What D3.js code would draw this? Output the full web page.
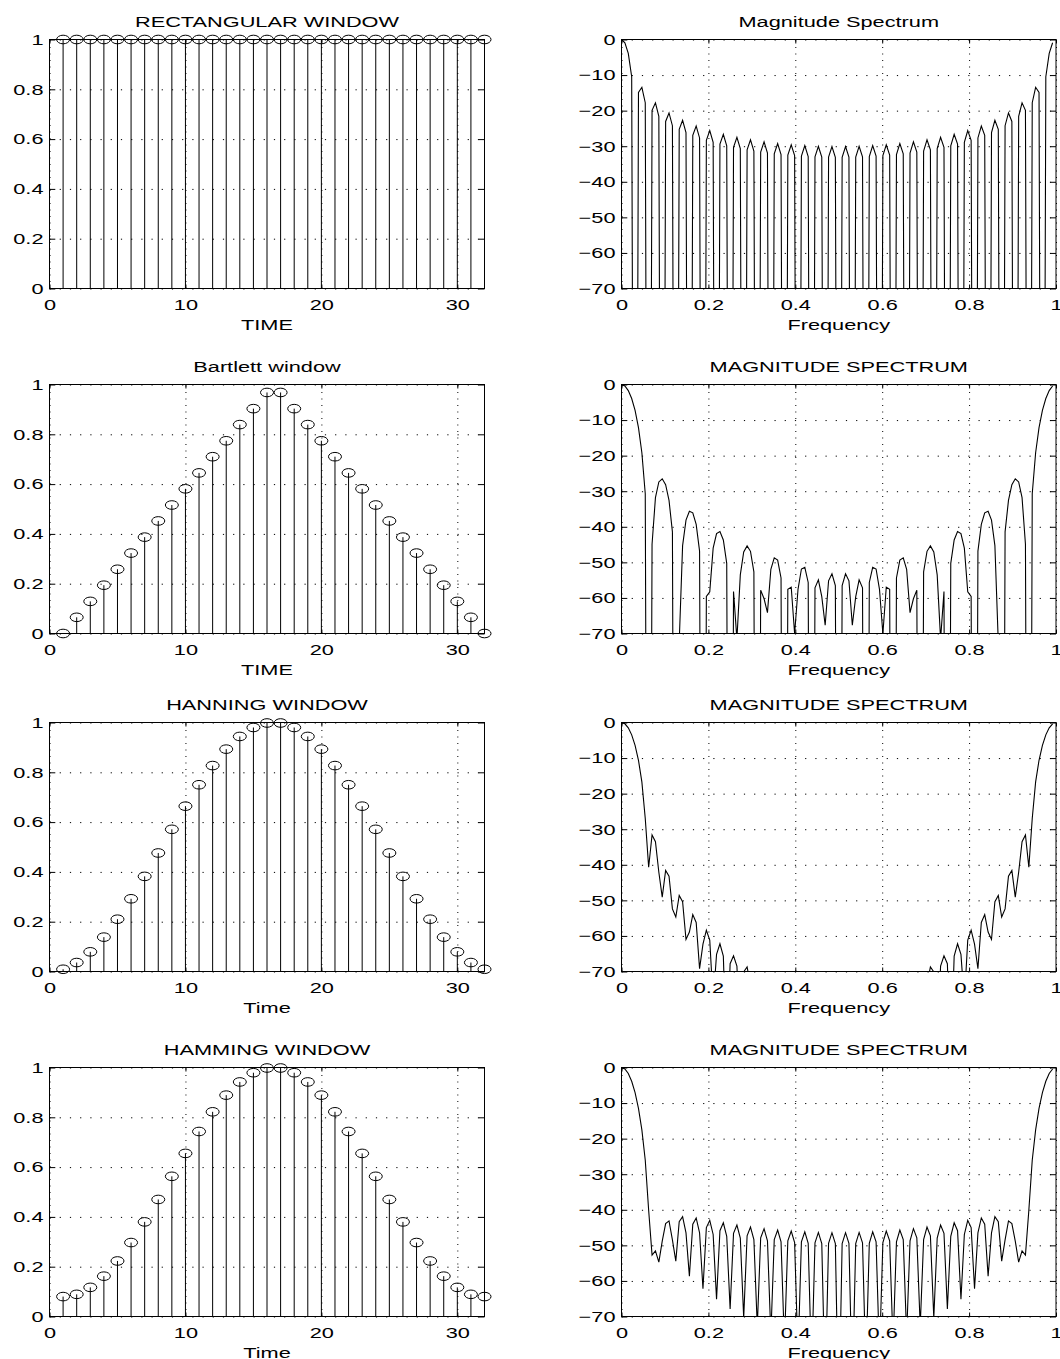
<!DOCTYPE html>
<html>
<head>
<meta charset="utf-8">
<script src="https://cdn.jsdelivr.net/npm/d3@7"></script>
<style>
  body { margin: 0; background: #fff; }
  svg text { font-family: "Liberation Sans", Arial, Helvetica, sans-serif; fill: #000; }
  .grid line { stroke: #000; stroke-width: 1; }
  .grid .domain { display: none; }
  .gx line { stroke-dasharray: 1, 5.5; }
  .gy line { stroke-dasharray: 1.2, 9; }
  .box { fill: none; stroke: #000; stroke-width: 1; }
  .stem { stroke: #000; stroke-width: 1; }
  .mark { fill: none; stroke: #000; stroke-width: 1; }
  .spec { fill: none; stroke: #000; stroke-width: 1.1; stroke-linejoin: miter; }
</style>
</head>
<body>
<script>

// window samples, n = 1..32
var rectWin = [1, 1, 1, 1, 1, 1, 1, 1, 1, 1, 1, 1, 1, 1, 1, 1,
               1, 1, 1, 1, 1, 1, 1, 1, 1, 1, 1, 1, 1, 1, 1, 1];
var bartlettWin = [0, 0.065, 0.129, 0.194, 0.258, 0.323, 0.387, 0.452, 0.516, 0.581, 0.645, 0.710, 0.774, 0.839, 0.903, 0.968,
                   0.968, 0.903, 0.839, 0.774, 0.710, 0.645, 0.581, 0.516, 0.452, 0.387, 0.323, 0.258, 0.194, 0.129, 0.065, 0];
var hanningWin = [0.009, 0.036, 0.079, 0.138, 0.210, 0.292, 0.382, 0.476, 0.571, 0.664, 0.750, 0.827, 0.893, 0.944, 0.980, 0.998,
                  0.998, 0.980, 0.944, 0.893, 0.827, 0.750, 0.664, 0.571, 0.476, 0.382, 0.292, 0.210, 0.138, 0.079, 0.036, 0.009];
var hammingWin = [0.080, 0.089, 0.117, 0.162, 0.223, 0.297, 0.380, 0.470, 0.563, 0.655, 0.743, 0.822, 0.889, 0.942, 0.979, 0.998,
                  0.998, 0.979, 0.942, 0.889, 0.822, 0.743, 0.655, 0.563, 0.470, 0.380, 0.297, 0.223, 0.162, 0.117, 0.089, 0.080];

// magnitude spectra in dB, 128 bins over frequency 0..1 (nulls far below the -70 floor)
var rectSpec = [
  0, -0.91, -3.92, -10.45, -300, -14.87, -13.43, -17.77,
  -300, -19.93, -17.81, -21.63, -300, -23.04, -20.65, -24.24,
  -300, -25.27, -22.72, -26.17, -300, -26.97, -24.32, -27.68,
  -300, -28.32, -25.60, -28.89, -300, -29.41, -26.65, -29.88,
  -300, -30.31, -27.50, -30.70, -300, -31.05, -28.20, -31.36,
  -300, -31.65, -28.77, -31.90, -300, -32.13, -29.23, -32.33,
  -300, -32.51, -29.58, -32.66, -300, -32.79, -29.84, -32.90,
  -300, -32.98, -30.01, -33.05, -300, -33.09, -30.09, -33.11,
  -300, -33.11, -30.09, -33.09, -300, -33.05, -30.01, -32.98,
  -300, -32.90, -29.84, -32.79, -300, -32.66, -29.58, -32.51,
  -300, -32.33, -29.23, -32.13, -300, -31.90, -28.77, -31.65,
  -300, -31.36, -28.20, -31.05, -300, -30.70, -27.50, -30.31,
  -300, -29.88, -26.65, -29.41, -300, -28.89, -25.60, -28.32,
  -300, -27.68, -24.32, -26.97, -300, -26.17, -22.72, -25.27,
  -300, -24.24, -20.65, -23.04, -300, -21.63, -17.81, -19.93,
  -300, -17.77, -13.43, -14.87, -300, -10.45, -3.92, -0.91];
var bartlettSpec = [
  0, -0.42, -1.70, -3.94, -7.30, -12.12, -19.18, -30.70,
  -300, -44.92, -31.82, -27.40, -26.50, -28.18, -32.59, -41.42,
  -300, -72.46, -45.30, -38.11, -35.63, -36.07, -39.32, -46.83,
  -300, -59.55, -58.29, -46.00, -41.93, -41.34, -43.71, -50.27,
  -300, -58.19, -71.59, -53.53, -47.09, -45.37, -46.90, -52.66,
  -300, -57.81, -60.24, -64.12, -51.95, -48.75, -49.38, -54.39,
  -300, -57.55, -56.95, -70.06, -57.58, -51.87, -51.42, -55.65,
  -300, -57.15, -54.92, -59.64, -67.69, -55.19, -53.20, -56.54,
  -300, -56.54, -53.20, -55.19, -67.69, -59.64, -54.92, -57.15,
  -300, -55.65, -51.42, -51.87, -57.58, -70.06, -56.95, -57.55,
  -300, -54.39, -49.38, -48.75, -51.95, -64.12, -60.24, -57.81,
  -300, -52.66, -46.90, -45.37, -47.09, -53.53, -71.59, -58.19,
  -300, -50.27, -43.71, -41.34, -41.93, -46.00, -58.29, -59.55,
  -300, -46.83, -39.32, -36.07, -35.63, -38.11, -45.30, -72.46,
  -300, -41.42, -32.59, -28.18, -26.50, -27.40, -31.82, -44.92,
  -300, -30.70, -19.18, -12.12, -7.30, -3.94, -1.70, -0.42];
var hanningSpec = [
  0, -0.37, -1.51, -3.48, -6.43, -10.62, -16.71, -26.97,
  -40.7, -31.6, -33.5, -42.1, -49.1, -41.6, -43.2, -52.4,
  -54.7, -48.6, -50.4, -61.0, -58.9, -54.0, -56.2, -69.2,
  -62.3, -58.4, -61.2, -78.5, -65.2, -62.2, -65.7, -96.0,
  -67.8, -65.6, -68.5, -89.9, -70.1, -68.7, -73.8, -85.4,
  -72.3, -71.5, -77.7, -84.0, -74.3, -74.2, -81.7, -83.8,
  -76.1, -76.8, -86.0, -84.0, -77.9, -79.2, -86.5, -86.0,
  -79.5, -80.3, -88.0, -86.0, -80.5, -81.0, -90.0, -86.0,
  -81.5, -86.0, -90.0, -81.0, -80.5, -86.0, -88.0, -80.3,
  -79.5, -86.0, -86.5, -79.2, -77.9, -84.0, -86.0, -76.8,
  -76.1, -83.8, -81.7, -74.2, -74.3, -84.0, -77.7, -71.5,
  -72.3, -85.4, -73.8, -68.7, -70.1, -89.9, -68.5, -65.6,
  -67.8, -96.0, -65.7, -62.2, -65.2, -78.5, -61.2, -58.4,
  -62.3, -69.2, -56.2, -54.0, -58.9, -61.0, -50.4, -48.6,
  -54.7, -52.4, -43.2, -41.6, -49.1, -42.1, -33.5, -31.6,
  -40.7, -26.97, -16.71, -10.62, -6.43, -3.48, -1.51, -0.37];
var hammingSpec = [
  0, -0.42, -1.68, -3.86, -7.06, -11.48, -17.53, -26.06,
  -40.12, -52.74, -51.55, -54.69, -48.83, -43.87, -43.12, -48.44,
  -54.43, -43.32, -41.91, -46.51, -58.68, -44.07, -42.30, -46.51,
  -62.16, -44.99, -42.97, -46.94, -65.17, -45.87, -43.66, -47.44,
  -67.87, -46.64, -44.29, -47.94, -70.39, -47.31, -44.84, -48.37,
  -72.83, -47.87, -45.31, -48.73, -75.29, -48.35, -45.69, -49.03,
  -77.92, -48.74, -46.00, -49.25, -80.93, -49.04, -46.22, -49.40,
  -84.80, -49.26, -46.37, -49.47, -91.00, -49.41, -46.44, -49.48,
  -100, -49.48, -46.44, -49.41, -91.00, -49.47, -46.37, -49.26,
  -84.80, -49.40, -46.22, -49.04, -80.93, -49.25, -46.00, -48.74,
  -77.92, -49.03, -45.69, -48.35, -75.29, -48.73, -45.31, -47.87,
  -72.83, -48.37, -44.84, -47.31, -70.39, -47.94, -44.29, -46.64,
  -67.87, -47.44, -43.66, -45.87, -65.17, -46.94, -42.97, -44.99,
  -62.16, -46.51, -42.30, -44.07, -58.68, -46.51, -41.91, -43.32,
  -54.43, -48.44, -43.12, -43.87, -48.83, -54.69, -51.55, -52.74,
  -40.12, -26.06, -17.53, -11.48, -7.06, -3.86, -1.68, -0.42];

var nfft = 128;
var timeTicks = [0, 10, 20, 30];
var winTicks = [0, 0.2, 0.4, 0.6, 0.8, 1];
var freqTicks = [0, 0.2, 0.4, 0.6, 0.8, 1];
var dbTicks = [-70, -60, -50, -40, -30, -20, -10, 0];

var leftTitles = ["RECTANGULAR WINDOW", "Bartlett window", "HANNING WINDOW", "HAMMING WINDOW"];
var rightTitles = ["Magnitude Spectrum", "MAGNITUDE SPECTRUM", "MAGNITUDE SPECTRUM", "MAGNITUDE SPECTRUM"];
var timeLabels = ["TIME", "TIME", "Time", "Time"];
var freqLabel = "Frequency";

var windows = [rectWin, bartlettWin, hanningWin, hammingWin];
var spectra = [rectSpec, bartlettSpec, hanningSpec, hammingSpec];

// layout (the original figure is stretched sideways, so text and markers are too)
var sx = 1.45;
var fontSize = 15;
var rowTop = [39.5, 384.5, 722.5, 1067.5];
var axH = 249;
var leftCol = [49.5, 484.5];
var rightCol = [621.5, 1056];
var tickLen = 4;

var svg = d3.select("body").append("svg")
    .attr("width", 1060)
    .attr("height", 1359);

var clipCount = 0;

function label(g, txt, x, y) {
  g.append("text")
    .attr("transform", "translate(" + x + "," + y + ") scale(" + sx + ",1)")
    .attr("text-anchor", "middle")
    .attr("font-size", fontSize)
    .text(txt);
}

function minusFmt(d) {
  return d < 0 ? "\u2212" + (-d) : String(d);
}

// axes frame: dotted grid, inward ticks on all four sides, labels, box
function makeAxes(col, top, xDom, yDom, xTicks, yTicks, title, xlabel) {
  var x = d3.scaleLinear().domain(xDom).range(col);
  var y = d3.scaleLinear().domain(yDom).range([top + axH, top]);
  var w = col[1] - col[0];
  var g = svg.append("g");

  g.append("g").attr("class", "grid gx")
    .attr("transform", "translate(0," + (top + axH) + ")")
    .call(d3.axisBottom(x).tickValues(xTicks).tickSize(-axH).tickFormat(""));
  g.append("g").attr("class", "grid gy")
    .attr("transform", "translate(" + col[0] + ",0)")
    .call(d3.axisLeft(y).tickValues(yTicks).tickSize(-w).tickFormat(""));

  var bx = g.append("g")
    .attr("transform", "translate(0," + (top + axH) + ")")
    .call(d3.axisBottom(x).tickValues(xTicks).tickSizeInner(-tickLen).tickSizeOuter(0)
          .tickPadding(11.3).tickFormat(minusFmt));
  var ly = g.append("g")
    .attr("transform", "translate(" + col[0] + ",0)")
    .call(d3.axisLeft(y).tickValues(yTicks).tickSizeInner(-tickLen * sx).tickSizeOuter(0)
          .tickFormat(minusFmt));
  g.append("g")
    .attr("transform", "translate(0," + top + ")")
    .call(d3.axisTop(x).tickValues(xTicks).tickSizeInner(-tickLen).tickSizeOuter(0).tickFormat(""));
  g.append("g")
    .attr("transform", "translate(" + col[1] + ",0)")
    .call(d3.axisRight(y).tickValues(yTicks).tickSizeInner(-tickLen * sx).tickSizeOuter(0).tickFormat(""));

  g.selectAll(".domain").remove();
  g.selectAll("g").attr("font-family", null).attr("font-size", null);

  bx.selectAll("text")
    .attr("font-size", fontSize)
    .attr("transform", "scale(" + sx + ",1)");
  ly.selectAll("text")
    .attr("font-size", fontSize)
    .attr("x", -6 / sx)
    .attr("transform", "scale(" + sx + ",1)");

  g.append("rect").attr("class", "box")
    .attr("x", col[0]).attr("y", top)
    .attr("width", w).attr("height", axH);

  label(g, title, (col[0] + col[1]) / 2, top - 12.5);
  label(g, xlabel, (col[0] + col[1]) / 2, top + axH + 41.5);

  return {x: x, y: y, g: g};
}

for (var r = 0; r < 4; r++) {
  // stem plot of the window
  var a = makeAxes(leftCol, rowTop[r], [0, 32], [0, 1], timeTicks, winTicks, leftTitles[r], timeLabels[r]);
  var stems = a.g.append("g").selectAll("g")
    .data(windows[r])
    .enter().append("g");
  stems.append("line")
    .attr("class", "stem")
    .attr("x1", function(d, i) { return a.x(i + 1); })
    .attr("x2", function(d, i) { return a.x(i + 1); })
    .attr("y1", a.y(0))
    .attr("y2", function(d) { return a.y(d); });
  stems.append("ellipse")
    .attr("class", "mark")
    .attr("cx", function(d, i) { return a.x(i + 1); })
    .attr("cy", function(d) { return a.y(d); })
    .attr("rx", 6.5)
    .attr("ry", 4.3);

  // magnitude spectrum in dB
  var b = makeAxes(rightCol, rowTop[r], [0, 1], [-70, 0], freqTicks, dbTicks, rightTitles[r], freqLabel);
  var cid = "clip" + clipCount;
  clipCount = clipCount + 1;
  b.g.append("clipPath").attr("id", cid)
    .append("rect")
    .attr("x", rightCol[0]).attr("y", rowTop[r] - 1)
    .attr("width", rightCol[1] - rightCol[0]).attr("height", axH + 1);
  var line = d3.line()
    .x(function(d, i) { return b.x(i / nfft); })
    .y(function(d) { return b.y(d); });
  b.g.append("path")
    .attr("class", "spec")
    .attr("clip-path", "url(#" + cid + ")")
    .attr("d", line(spectra[r]));
}
</script>
</body>
</html>
